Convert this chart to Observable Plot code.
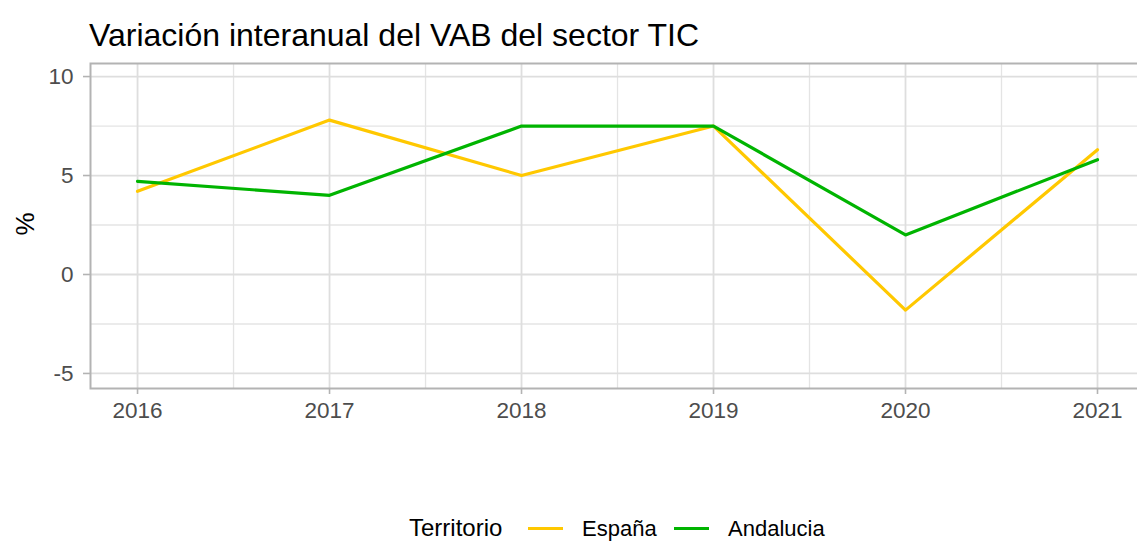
<!DOCTYPE html>
<html><head><meta charset="utf-8">
<script src="https://cdn.jsdelivr.net/npm/d3@7"></script>
<script src="https://cdn.jsdelivr.net/npm/@observablehq/plot@0.6"></script>
<style>
html,body{margin:0;padding:0;background:#fff;overflow:hidden;width:1137px;height:542px;font-family:"Liberation Sans",Arial,sans-serif;}
#root{position:relative;width:1137px;height:542px;overflow:hidden;}
.abs{position:absolute;white-space:nowrap;line-height:1;}
</style></head><body><div id="root">
<div id="title" class="abs" style="left:89px;top:19px;font-size:32px;color:#000"></div>
<div id="chart" style="position:absolute;left:0;top:55px"></div>
<div id="ylab" class="abs" style="left:25px;top:224px;font-size:26px;color:#000;transform:translate(-50%,-50%) rotate(-90deg)"></div>
<div id="legend"></div>
</div>
<script>
const titleText = "Variación interanual del VAB del sector TIC";
const yLabel = "%";
const years = [2016, 2017, 2018, 2019, 2020, 2021];
const espana = [4.2, 7.8, 5.0, 7.5, -1.8, 6.3];
const andalucia = [4.7, 4.0, 7.5, 7.5, 2.0, 5.8];
const seriesNames = ["España", "Andalucia"];
const seriesColors = ["#FFC800", "#00B400"];
const yTicks = [-5, 0, 5, 10];
const yMinor = [-2.5, 2.5, 7.5];
const xMinor = [2016.5, 2017.5, 2018.5, 2019.5, 2020.5];
const legendTitle = "Territorio";

document.getElementById("title").textContent = titleText;
document.getElementById("ylab").textContent = yLabel;

const rows = [];
seriesNames.forEach((name, s) => {
  const vals = s === 0 ? espana : andalucia;
  years.forEach((yr, i) => rows.push({year: yr, value: vals[i], territorio: name}));
});

const gridMajor = {stroke: "#dedede", strokeOpacity: 1, strokeWidth: 1.8};
const gridMinor = {stroke: "#e4e4e4", strokeOpacity: 1, strokeWidth: 1.3};

const svg = Plot.plot({
  width: 1137, height: 380,
  marginLeft: 90, marginRight: -8, marginTop: 8, marginBottom: 47,
  style: {fontFamily: "Liberation Sans, Arial, sans-serif", background: "transparent", overflow: "hidden"},
  x: {domain: [2015.755, 2021.25]},
  y: {domain: [-5.76, 10.66]},
  color: {domain: seriesNames, range: seriesColors},
  marks: [
    Plot.gridX(xMinor, gridMinor),
    Plot.gridY(yMinor, gridMinor),
    Plot.gridX(years, gridMajor),
    Plot.gridY(yTicks, gridMajor),
    Plot.frame({stroke: "#b3b3b3", strokeWidth: 2}),
    Plot.axisX(years, {tickSize: 6, tickPadding: 8, tickFormat: d => String(d), fontSize: 22.5, stroke: "#b3b3b3", fill: "#4d4d4d", strokeWidth: 1.6, label: null}),
    Plot.axisY(yTicks, {tickSize: 7, tickPadding: 10, tickFormat: d => String(d), fontSize: 22.5, stroke: "#b3b3b3", fill: "#4d4d4d", strokeWidth: 1.6, label: null}),
    Plot.line(rows, {x: "year", y: "value", z: "territorio", stroke: "territorio", strokeWidth: 3.2})
  ]
});
document.getElementById("chart").appendChild(svg);

// Legend
const legend = document.getElementById("legend");
function addText(txt, left, top, size) {
  const d = document.createElement("div");
  d.className = "abs";
  d.style.left = left + "px"; d.style.top = top + "px"; d.style.fontSize = size + "px"; d.style.color = "#000";
  d.textContent = txt;
  legend.appendChild(d);
}
function addKey(color, left) {
  const d = document.createElement("div");
  d.style.position = "absolute";
  d.style.left = left + "px"; d.style.top = "526.5px"; d.style.width = "35px"; d.style.height = "3px";
  d.style.background = color;
  legend.appendChild(d);
}
addText(legendTitle, 409, 516, 24);
addKey(seriesColors[0], 528);
addText(seriesNames[0], 582, 518, 22);
addKey(seriesColors[1], 674);
addText(seriesNames[1], 728, 518, 22);
</script>
</body></html>
